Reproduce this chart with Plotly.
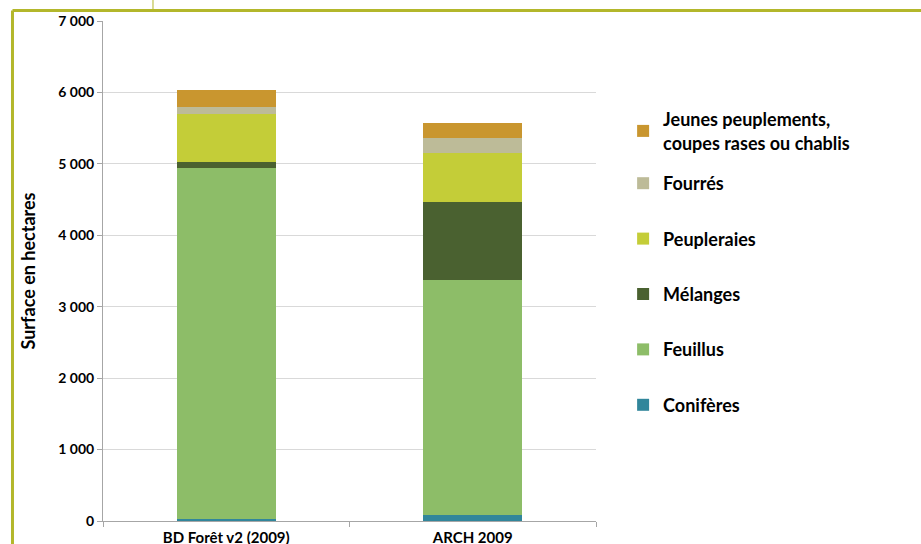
import plotly.graph_objects as go

# Surfaces boisées par type de peuplement (hectares)
sources = ["BD Forêt v2 (2009)", "ARCH 2009"]
coniferes = [30, 80]
feuillus = [4910, 3294]
melanges = [86, 1092]
peupleraies = [676, 682]
fourres = [98, 210]
jeunes = [234, 210]

series = [
    ("Conifères", coniferes, "#31869b", "legend"),
    ("Feuillus", feuillus, "#8dbd68", "legend"),
    ("Mélanges", melanges, "#4a6130", "legend"),
    ("Peupleraies", peupleraies, "#c4cd38", "legend"),
    ("Fourrés", fourres, "#bdbb98", "legend"),
    ("Jeunes peuplements,<br>coupes rases ou chablis", jeunes, "#c9962f", "legend2"),
]

font_family = "Lato, 'Open Sans', sans-serif"

fig = go.Figure()
n = len(series)
for i, (name, vals, color, leg) in enumerate(series):
    fig.add_trace(go.Bar(
        x=sources, y=vals, name=name, legendgroup=f"g{i}",
        legendrank=n - i, legend=leg,
        marker=dict(color=color, line=dict(width=0)),
    ))

legend_font = dict(family=font_family, size=18, color="#000000", weight="bold")
frame = "#b3b72b"
fig.update_layout(
    barmode="stack",
    bargap=0.6,
    width=921, height=544,
    margin=dict(l=103, r=325, t=21, b=23),
    plot_bgcolor="white", paper_bgcolor="white",
    separators=", ",
    font=dict(family=font_family, color="#000000", size=14),
    legend=dict(
        traceorder="grouped",
        tracegroupgap=29,
        x=1.055, y=0.712, xanchor="left", yanchor="top",
        font=legend_font,
        itemwidth=30,
    ),
    legend2=dict(
        x=1.055, y=0.84, xanchor="left", yanchor="top",
        font=legend_font,
        itemwidth=30,
    ),
    xaxis=dict(
        showline=True, linecolor="#a6a6a6", linewidth=1,
        ticks="outside", tickson="boundaries", ticklen=5, tickcolor="#a6a6a6",
        tickfont=dict(size=15, weight="bold"),
        ticklabelstandoff=3,
        automargin=False,
    ),
    yaxis=dict(
        range=[0, 7000], dtick=1000, tickformat=",d",
        showline=True, linecolor="#a6a6a6", linewidth=1,
        ticks="outside", ticklen=5, tickcolor="#a6a6a6",
        gridcolor="#d9d9d9", gridwidth=1,
        tickfont=dict(size=14, weight="bold"),
        title=dict(text="Surface en hectares", font=dict(size=18, weight="bold"), standoff=18),
        zeroline=False,
        automargin=False,
    ),
    shapes=[
        dict(type="line", xref="paper", yref="paper", x0=-0.1836, x1=1.7, y0=1.021, y1=1.021,
             line=dict(color=frame, width=3)),
        dict(type="line", xref="paper", yref="paper", x0=-0.1836, x1=-0.1836, y0=1.021, y1=-0.1,
             line=dict(color=frame, width=3)),
        dict(type="line", xref="paper", yref="paper", x0=0.1014, x1=0.1014, y0=1.021, y1=1.05,
             line=dict(color=frame, width=1)),
    ],
)

fig.write_html("out.html")
